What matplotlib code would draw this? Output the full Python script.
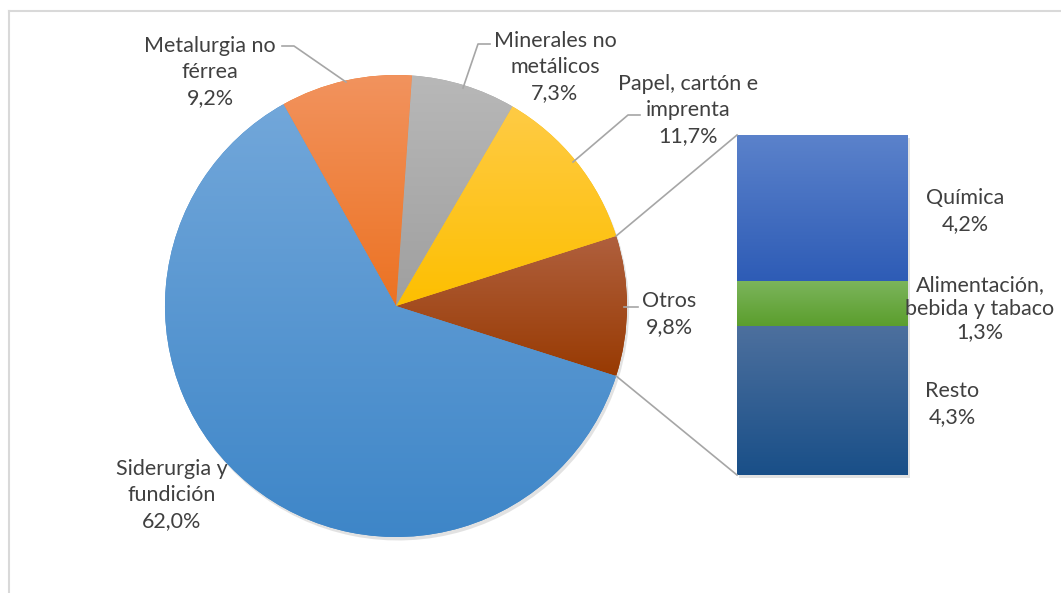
import numpy as np
import matplotlib
matplotlib.use("Agg")
import matplotlib.pyplot as plt
import matplotlib.patheffects as pe
from matplotlib.colors import LinearSegmentedColormap

# ---- data ----
categories = ['Otros', 'Papel, cartón e\nimprenta', 'Minerales no\nmetálicos',
              'Metalurgia no\nférrea', 'Siderurgia y\nfundición']
values = [9.8, 11.7, 7.3, 9.2, 62.0]
sub_categories = ['Química', 'Alimentación,\nbebida y tabaco', 'Resto']
sub_values = [4.2, 1.3, 4.3]

pie_grad = [('#b0603e', '#983a02'),   # Otros
            ('#ffcb45', '#fdbf00'),   # Papel
            ('#b8b8b8', '#9f9f9f'),   # Minerales
            ('#f2935e', '#ec7222'),   # Metalurgia
            ('#72a7da', '#3e86c8')]   # Siderurgia
bar_grad = [('#5b82cb', '#2e5cb6'),   # Química
            ('#7cb55c', '#5b9e2d'),   # Alimentación
            ('#4d709e', '#194f88')]   # Resto

def fmt(v):
    return f"{v:.1f}".replace('.', ',') + '%'

plt.rcParams['font.family'] = ['Lato', 'DejaVu Sans']
W, H = 1061, 593
fig = plt.figure(figsize=(W / 100, H / 100), dpi=100)
ax = fig.add_axes([0, 0, 1, 1])

def Y(py):
    return H - py

# ---- pie ----
cx, cy, R = 396, Y(306), 231
start = -values[0] / sum(values) * 360 / 2
wedges, _ = ax.pie(values, startangle=start, counterclock=True, center=(cx, cy),
                   radius=R, frame=True,
                   wedgeprops=dict(linewidth=0, edgecolor='none'))
ax.set_xlim(0, W)
ax.set_ylim(0, H)
ax.set_aspect('equal')
ax.axis('off')

# frame
ax.plot([9, 9], [Y(593), Y(11)], color='#d9d9d9', lw=1.5, zorder=0)
ax.plot([9, W], [Y(11), Y(11)], color='#d9d9d9', lw=1.5, zorder=0)

def grad_fill(patch, c_top, c_bot, bbox, z=2):
    cmap = LinearSegmentedColormap.from_list('g', [c_bot, c_top])
    arr = np.linspace(0, 1, 256).reshape(-1, 1)
    im = ax.imshow(arr, cmap=cmap, origin='lower', aspect='auto',
                   extent=[bbox.x0, bbox.x1, bbox.y0, bbox.y1],
                   zorder=z, interpolation='bilinear')
    im.set_clip_path(patch)

shadow = [pe.SimplePatchShadow(offset=(1.5, -2.5), shadow_rgbFace='#7f7f7f', alpha=0.22),
          pe.Normal()]

for w, (ct, cb) in zip(wedges, pie_grad):
    w.set_facecolor(cb)
    w.set_zorder(1)
    w.set_path_effects(shadow)
    bb = w.get_path().get_extents()
    grad_fill(w, ct, cb, bb)

# ---- stacked bar ----
bx0, bx1 = 737, 908
btop, bbot = 135, 475
k = (bbot - btop) / sum(sub_values)
bottoms = []
acc = 0.0
for v in reversed(sub_values):
    bottoms.append(acc)
    acc += v
bottoms = list(reversed(bottoms))
heights = [v * k for v in sub_values]
bars = ax.bar([(bx0 + bx1) / 2] * len(sub_values), heights, width=bx1 - bx0,
              bottom=[Y(bbot) + b * k for b in bottoms], linewidth=0)
for b, (ct, cb) in zip(bars, bar_grad):
    b.set_facecolor(cb)
    b.set_zorder(1)
    b.set_path_effects(shadow)
    grad_fill(b, ct, cb, b.get_bbox())

# ---- labels ----
tc = '#404040'
fs = 15.5
pie_pos = [(669, 314), (688, 110), (555, 67), (210, 72), (172, 495)]
for name, v, (px, py) in zip(categories, values, pie_pos):
    ax.text(px, Y(py), f"{name}\n{fmt(v)}", ha='center', va='center', fontsize=fs,
            color=tc, linespacing=1.35, zorder=5)
bar_pos = [(965, 211), (980, 309), (952, 404)]
for name, v, (px, py) in zip(sub_categories, sub_values, bar_pos):
    ax.text(px, Y(py), f"{name}\n{fmt(v)}", ha='center', va='center', fontsize=fs,
            color=tc, linespacing=1.35 if '\n' not in name else 1.22, zorder=5)

# leader lines
lc = '#a6a6a6'
leaders = [
    [(282, 46), (294, 46), (346, 82)],
    [(490, 44), (478, 44), (463, 88)],
    [(640, 115), (628, 115), (573, 162)],
    [(624, 307), (638, 307)],
]
for pts in leaders:
    xs = [p[0] for p in pts]
    ys = [Y(p[1]) for p in pts]
    ax.plot(xs, ys, color=lc, lw=1.2, zorder=4)

# connector lines pie -> bar
th1 = np.deg2rad(start + values[0] / sum(values) * 360)
th0 = np.deg2rad(start)
ax.plot([cx + R * np.cos(th1), bx0], [cy + R * np.sin(th1), Y(btop)], color=lc, lw=1.2, zorder=4)
ax.plot([cx + R * np.cos(th0), bx0], [cy + R * np.sin(th0), Y(bbot)], color=lc, lw=1.2, zorder=4)

fig.savefig('out.png', dpi=100)
